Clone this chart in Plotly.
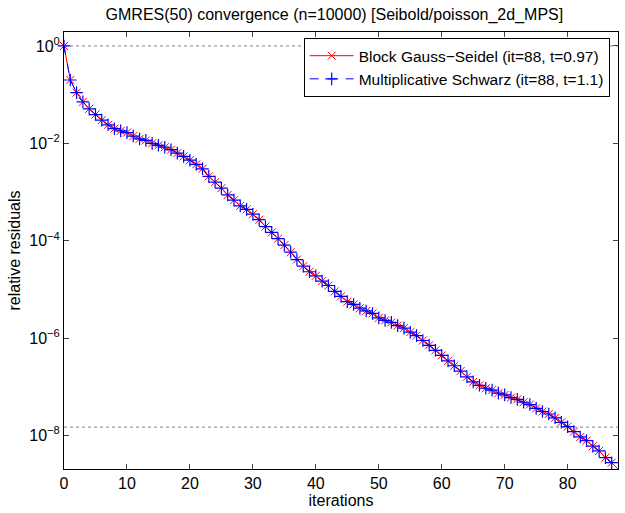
import plotly.graph_objects as go

iterations = list(range(0, 89))
gauss_seidel = [
    1.0, 0.20, 0.11, 0.071, 0.051, 0.039, 0.030, 0.024, 0.020, 0.018,
    0.0166, 0.0141, 0.0123, 0.0115, 0.0100, 0.0091, 0.0083, 0.0074, 0.0063, 0.0054,
    0.0045, 0.0037, 0.0030, 0.0021, 0.0016, 0.0012, 8.7e-4, 6.8e-4, 5.2e-4, 4.4e-4,
    3.5e-4, 2.7e-4, 1.95e-4, 1.48e-4, 1.10e-4, 8.1e-5, 5.8e-5, 4.1e-5, 3.0e-5, 2.3e-5,
    1.9e-5, 1.48e-5, 1.20e-5, 9.1e-6, 7.2e-6, 5.6e-6, 4.9e-6, 4.1e-6, 3.6e-6, 3.2e-6,
    2.6e-6, 2.3e-6, 2.1e-6, 1.8e-6, 1.6e-6, 1.32e-6, 1.12e-6, 8.9e-7, 7.1e-7, 5.6e-7,
    4.4e-7, 3.4e-7, 2.7e-7, 2.1e-7, 1.6e-7, 1.26e-7, 1.07e-7, 9.3e-8, 8.5e-8, 7.4e-8,
    6.8e-8, 6.0e-8, 5.5e-8, 4.8e-8, 4.3e-8, 3.6e-8, 3.1e-8, 2.75e-8, 2.3e-8, 1.86e-8,
    1.51e-8, 1.20e-8, 9.3e-9, 7.8e-9, 6.0e-9, 4.8e-9, 3.5e-9, 2.75e-9, 2.04e-9,
]
mult_schwarz = list(gauss_seidel)
tolerance = 1.48e-8
tick_vals = [1e0, 1e-2, 1e-4, 1e-6, 1e-8]
tick_text = ["10<sup>0</sup>", "10<sup>\u22122</sup>", "10<sup>\u22124</sup>",
             "10<sup>\u22126</sup>", "10<sup>\u22128</sup>"]
x_ticks = [0, 10, 20, 30, 40, 50, 60, 70, 80]

FONT = "Liberation Sans, Arial, Helvetica, sans-serif"

fig = go.Figure()
for yv in [1.0, tolerance]:
    fig.add_trace(go.Scatter(
        x=[0, 88], y=[yv, yv], mode="lines", showlegend=False, hoverinfo="skip",
        line=dict(color="#808080", width=1, dash="dot"),
    ))
fig.add_trace(go.Scatter(
    x=iterations, y=gauss_seidel, mode="lines+markers",
    name="Block Gauss\u2212Seidel (it=88, t=0.97)",
    line=dict(color="#ff0000", width=1),
    marker=dict(symbol="x-thin", size=8, line=dict(color="#ff0000", width=1)),
    cliponaxis=False,
))
fig.add_trace(go.Scatter(
    x=iterations, y=mult_schwarz, mode="lines+markers",
    name="Multiplicative Schwarz (it=88, t=1.1)",
    line=dict(color="#0000ff", width=1, dash="dash"),
    marker=dict(symbol="cross-thin", size=9, line=dict(color="#0000ff", width=1.2)),
    cliponaxis=False,
))

fig.update_layout(
    width=625, height=513,
    margin=dict(l=64, r=7, t=32, b=44, autoexpand=False),
    paper_bgcolor="white", plot_bgcolor="white",
    font=dict(family=FONT, size=16, color="black"),
    title=dict(text="GMRES(50) convergence (n=10000) [Seibold/poisson_2d_MPS]",
               x=0.535, xanchor="center", y=0.972, yanchor="middle",
               font=dict(size=16, family=FONT)),
    legend=dict(x=0.985, xanchor="right", y=0.986, yanchor="top",
                bordercolor="black", borderwidth=1, bgcolor="white",
                font=dict(size=15.5, family=FONT), itemwidth=44,
                tracegroupgap=0),
    showlegend=True,
)
fig.update_xaxes(
    range=[0, 88], tickvals=x_ticks, ticks="inside", ticklen=5,
    showline=True, linecolor="black", linewidth=1, mirror="ticks",
    showgrid=False, zeroline=False, automargin=False,
    title=dict(text="iterations", standoff=2, font=dict(size=16)),
    tickfont=dict(size=16),
)
fig.update_yaxes(
    type="log", range=[-8.69, 0.287], tickvals=tick_vals, ticktext=tick_text,
    ticks="inside", ticklen=5,
    showline=True, linecolor="black", linewidth=1, mirror="ticks",
    showgrid=False, zeroline=False, automargin=False,
    title=dict(text="relative residuals", standoff=4, font=dict(size=16)),
    tickfont=dict(size=16),
)

fig.write_html("out.html", config={"displayModeBar": False})
with open("out.html", "r", encoding="utf-8") as f:
    html = f.read()
html = html.replace("<head>", "<head><style>html,body{margin:0;padding:0;}</style>", 1)
with open("out.html", "w", encoding="utf-8") as f:
    f.write(html)
